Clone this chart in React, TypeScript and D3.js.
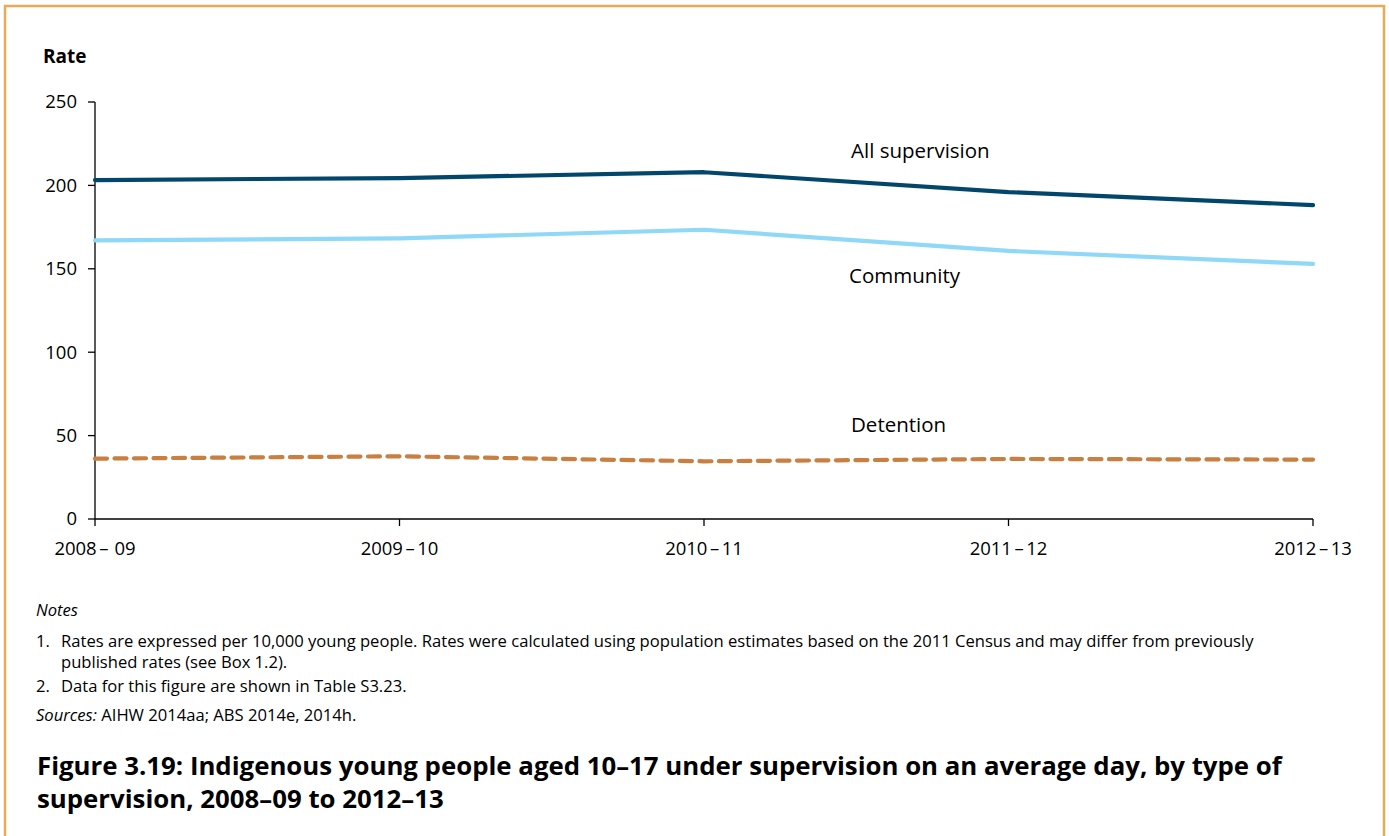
import React from "react";
import * as d3 from "d3";

const years = ["2008–09", "2009–10", "2010–11", "2011–12", "2012–13"];
const allSupervision = [203.2, 204.4, 207.9, 196.0, 188.2];
const community = [167.0, 168.3, 173.4, 160.7, 152.9];
const detention = [36.2, 37.6, 34.6, 36.0, 35.6];
const yTicks = [0, 50, 100, 150, 200, 250];

const W = 1389;
const H = 836;
const FONT = "'Open Sans', 'Noto Sans', sans-serif";

export default function App() {
  const x = d3.scalePoint<string>().domain(years).range([95, 1313]);
  const y = d3.scaleLinear().domain([0, 250]).range([519, 102]);
  const line = d3
    .line<number>()
    .x((_, i) => x(years[i]) as number)
    .y((d) => y(d));

  const series = [
    { name: "All supervision", values: allSupervision, color: "#02476b", dash: undefined, label: [851, 158] },
    { name: "Community", values: community, color: "#8fd8f7", dash: undefined, label: [849, 283] },
    { name: "Detention", values: detention, color: "#c97f40", dash: "12 7.5", label: [851, 432] },
  ];

  return (
    <svg width={W} height={H} style={{ position: "absolute", left: 0, top: 0, background: "#fff" }} fontFamily={FONT}>
      <rect x={5} y={6} width={1379} height={840} fill="#fff" stroke="#e9a955" strokeWidth={2.5} />
      <text x={43} y={63} fontSize={19} fontWeight={700} fill="#000">Rate</text>
      {/* y axis */}
      <line x1={95} x2={95} y1={102} y2={519} stroke="#000" strokeWidth={1.3} />
      {yTicks.map((t) => (
        <g key={t}>
          <line x1={88} x2={95} y1={y(t)} y2={y(t)} stroke="#000" strokeWidth={1.3} />
          <text x={77} y={y(t)} dy="0.35em" textAnchor="end" fontSize={18.5} fill="#000">{t}</text>
        </g>
      ))}
      {/* x axis */}
      <line x1={95} x2={1313} y1={519} y2={519} stroke="#000" strokeWidth={1.3} />
      {years.map((yr, i) => {
        const [a, b] = yr.split("–");
        return (
          <g key={yr}>
            <line x1={x(yr)} x2={x(yr)} y1={519} y2={526} stroke="#000" strokeWidth={1.3} />
            <text x={x(yr)} y={555} textAnchor="middle" fontSize={18.5} fill="#000">
              {a}
              <tspan dx={2.5}>–</tspan>
              <tspan dx={i === 0 ? 6 : 2.5}>{b}</tspan>
            </text>
          </g>
        );
      })}
      {series.map((s) => (
        <g key={s.name}>
          <path
            d={line(s.values) || ""}
            fill="none"
            stroke={s.color}
            strokeWidth={4.2}
            strokeDasharray={s.dash}
            strokeLinecap="round"
            strokeLinejoin="round"
          />
          <text x={s.label[0]} y={s.label[1]} fontSize={20.5} fill="#000">{s.name}</text>
        </g>
      ))}
      {/* notes */}
      <g fontSize={16.6} fill="#000">
        <text x={36} y={616} fontStyle="italic">Notes</text>
        <text x={36} y={647}>1.</text>
        <text x={61} y={647}>Rates are expressed per 10,000 young people. Rates were calculated using population estimates based on the 2011 Census and may differ from previously</text>
        <text x={61} y={668}>published rates (see Box 1.2).</text>
        <text x={36} y={692}>2.</text>
        <text x={61} y={692}>Data for this figure are shown in Table S3.23.</text>
        <text x={36} y={721}><tspan fontStyle="italic">Sources:</tspan> AIHW 2014aa; ABS 2014e, 2014h.</text>
      </g>
      <g fontSize={25.8} fontWeight={700} fill="#000">
        <text x={37} y={775}>Figure 3.19: Indigenous young people aged 10–17 under supervision on an average day, by type of</text>
        <text x={37} y={808}>supervision, 2008–09 to 2012–13</text>
      </g>
    </svg>
  );
}
